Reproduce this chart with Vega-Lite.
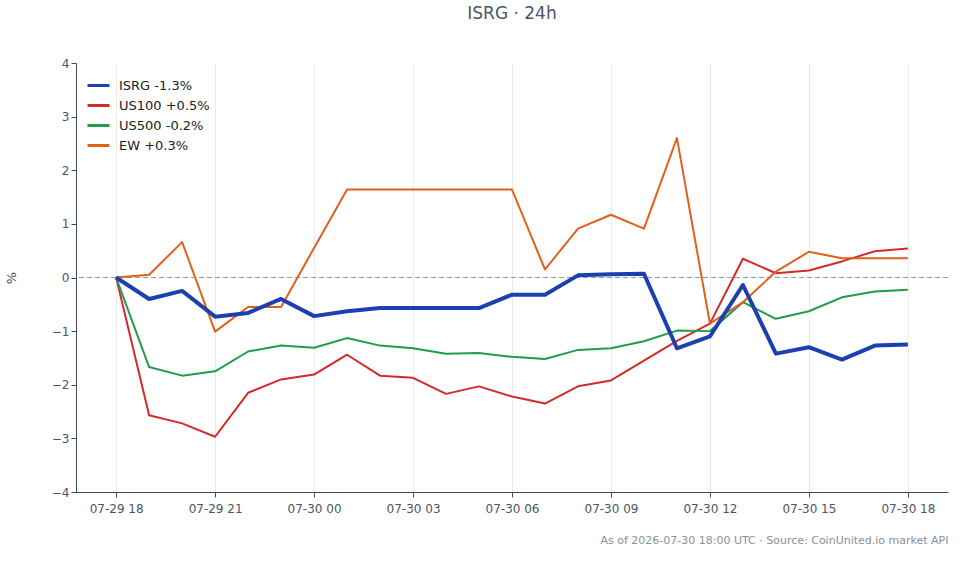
{
  "$schema": "https://vega.github.io/schema/vega-lite/v6.json",
  "width": 872,
  "height": 429,
  "config": {
    "font": "DejaVu Sans",
    "view": {"stroke": ""},
    "axis": {
      "labelFontSize": 12,
      "labelColor": "#4b5563",
      "domainColor": "#3f4a5a",
      "tickColor": "#3f4a5a",
      "gridColor": "#e8eaee",
      "titleFontWeight": "normal",
      "titleColor": "#4b5563"
    }
  },
  "title": {"text": "ISRG · 24h", "fontSize": 17, "fontWeight": "normal", "color": "#4a5568", "offset": 34},
  "data": {
    "values": [
      {"t": "2026-07-29T18:00:00Z", "series": "US100 +0.5%", "pct": 0.00},
      {"t": "2026-07-29T19:00:00Z", "series": "US100 +0.5%", "pct": -2.57},
      {"t": "2026-07-29T20:00:00Z", "series": "US100 +0.5%", "pct": -2.72},
      {"t": "2026-07-29T21:00:00Z", "series": "US100 +0.5%", "pct": -2.97},
      {"t": "2026-07-29T22:00:00Z", "series": "US100 +0.5%", "pct": -2.15},
      {"t": "2026-07-29T23:00:00Z", "series": "US100 +0.5%", "pct": -1.90},
      {"t": "2026-07-30T00:00:00Z", "series": "US100 +0.5%", "pct": -1.81},
      {"t": "2026-07-30T01:00:00Z", "series": "US100 +0.5%", "pct": -1.44},
      {"t": "2026-07-30T02:00:00Z", "series": "US100 +0.5%", "pct": -1.83},
      {"t": "2026-07-30T03:00:00Z", "series": "US100 +0.5%", "pct": -1.87},
      {"t": "2026-07-30T04:00:00Z", "series": "US100 +0.5%", "pct": -2.17},
      {"t": "2026-07-30T05:00:00Z", "series": "US100 +0.5%", "pct": -2.03},
      {"t": "2026-07-30T06:00:00Z", "series": "US100 +0.5%", "pct": -2.22},
      {"t": "2026-07-30T07:00:00Z", "series": "US100 +0.5%", "pct": -2.35},
      {"t": "2026-07-30T08:00:00Z", "series": "US100 +0.5%", "pct": -2.03},
      {"t": "2026-07-30T09:00:00Z", "series": "US100 +0.5%", "pct": -1.92},
      {"t": "2026-07-30T10:00:00Z", "series": "US100 +0.5%", "pct": -1.55},
      {"t": "2026-07-30T11:00:00Z", "series": "US100 +0.5%", "pct": -1.18},
      {"t": "2026-07-30T12:00:00Z", "series": "US100 +0.5%", "pct": -0.86},
      {"t": "2026-07-30T13:00:00Z", "series": "US100 +0.5%", "pct": 0.35},
      {"t": "2026-07-30T14:00:00Z", "series": "US100 +0.5%", "pct": 0.08},
      {"t": "2026-07-30T15:00:00Z", "series": "US100 +0.5%", "pct": 0.13},
      {"t": "2026-07-30T16:00:00Z", "series": "US100 +0.5%", "pct": 0.30},
      {"t": "2026-07-30T17:00:00Z", "series": "US100 +0.5%", "pct": 0.49},
      {"t": "2026-07-30T18:00:00Z", "series": "US100 +0.5%", "pct": 0.54},

      {"t": "2026-07-29T18:00:00Z", "series": "US500 -0.2%", "pct": 0.00},
      {"t": "2026-07-29T19:00:00Z", "series": "US500 -0.2%", "pct": -1.67},
      {"t": "2026-07-29T20:00:00Z", "series": "US500 -0.2%", "pct": -1.83},
      {"t": "2026-07-29T21:00:00Z", "series": "US500 -0.2%", "pct": -1.75},
      {"t": "2026-07-29T22:00:00Z", "series": "US500 -0.2%", "pct": -1.38},
      {"t": "2026-07-29T23:00:00Z", "series": "US500 -0.2%", "pct": -1.27},
      {"t": "2026-07-30T00:00:00Z", "series": "US500 -0.2%", "pct": -1.31},
      {"t": "2026-07-30T01:00:00Z", "series": "US500 -0.2%", "pct": -1.13},
      {"t": "2026-07-30T02:00:00Z", "series": "US500 -0.2%", "pct": -1.27},
      {"t": "2026-07-30T03:00:00Z", "series": "US500 -0.2%", "pct": -1.32},
      {"t": "2026-07-30T04:00:00Z", "series": "US500 -0.2%", "pct": -1.42},
      {"t": "2026-07-30T05:00:00Z", "series": "US500 -0.2%", "pct": -1.41},
      {"t": "2026-07-30T06:00:00Z", "series": "US500 -0.2%", "pct": -1.48},
      {"t": "2026-07-30T07:00:00Z", "series": "US500 -0.2%", "pct": -1.52},
      {"t": "2026-07-30T08:00:00Z", "series": "US500 -0.2%", "pct": -1.35},
      {"t": "2026-07-30T09:00:00Z", "series": "US500 -0.2%", "pct": -1.32},
      {"t": "2026-07-30T10:00:00Z", "series": "US500 -0.2%", "pct": -1.19},
      {"t": "2026-07-30T11:00:00Z", "series": "US500 -0.2%", "pct": -0.99},
      {"t": "2026-07-30T12:00:00Z", "series": "US500 -0.2%", "pct": -1.00},
      {"t": "2026-07-30T13:00:00Z", "series": "US500 -0.2%", "pct": -0.46},
      {"t": "2026-07-30T14:00:00Z", "series": "US500 -0.2%", "pct": -0.77},
      {"t": "2026-07-30T15:00:00Z", "series": "US500 -0.2%", "pct": -0.63},
      {"t": "2026-07-30T16:00:00Z", "series": "US500 -0.2%", "pct": -0.37},
      {"t": "2026-07-30T17:00:00Z", "series": "US500 -0.2%", "pct": -0.26},
      {"t": "2026-07-30T18:00:00Z", "series": "US500 -0.2%", "pct": -0.23},

      {"t": "2026-07-29T18:00:00Z", "series": "EW +0.3%", "pct": 0.00},
      {"t": "2026-07-29T19:00:00Z", "series": "EW +0.3%", "pct": 0.05},
      {"t": "2026-07-29T20:00:00Z", "series": "EW +0.3%", "pct": 0.66},
      {"t": "2026-07-29T21:00:00Z", "series": "EW +0.3%", "pct": -1.01},
      {"t": "2026-07-29T22:00:00Z", "series": "EW +0.3%", "pct": -0.55},
      {"t": "2026-07-29T23:00:00Z", "series": "EW +0.3%", "pct": -0.55},
      {"t": "2026-07-30T00:00:00Z", "series": "EW +0.3%", "pct": 0.55},
      {"t": "2026-07-30T01:00:00Z", "series": "EW +0.3%", "pct": 1.64},
      {"t": "2026-07-30T02:00:00Z", "series": "EW +0.3%", "pct": 1.64},
      {"t": "2026-07-30T03:00:00Z", "series": "EW +0.3%", "pct": 1.64},
      {"t": "2026-07-30T04:00:00Z", "series": "EW +0.3%", "pct": 1.64},
      {"t": "2026-07-30T05:00:00Z", "series": "EW +0.3%", "pct": 1.64},
      {"t": "2026-07-30T06:00:00Z", "series": "EW +0.3%", "pct": 1.64},
      {"t": "2026-07-30T07:00:00Z", "series": "EW +0.3%", "pct": 0.15},
      {"t": "2026-07-30T08:00:00Z", "series": "EW +0.3%", "pct": 0.91},
      {"t": "2026-07-30T09:00:00Z", "series": "EW +0.3%", "pct": 1.17},
      {"t": "2026-07-30T10:00:00Z", "series": "EW +0.3%", "pct": 0.91},
      {"t": "2026-07-30T11:00:00Z", "series": "EW +0.3%", "pct": 2.60},
      {"t": "2026-07-30T12:00:00Z", "series": "EW +0.3%", "pct": -0.86},
      {"t": "2026-07-30T13:00:00Z", "series": "EW +0.3%", "pct": -0.46},
      {"t": "2026-07-30T14:00:00Z", "series": "EW +0.3%", "pct": 0.11},
      {"t": "2026-07-30T15:00:00Z", "series": "EW +0.3%", "pct": 0.48},
      {"t": "2026-07-30T16:00:00Z", "series": "EW +0.3%", "pct": 0.36},
      {"t": "2026-07-30T17:00:00Z", "series": "EW +0.3%", "pct": 0.36},
      {"t": "2026-07-30T18:00:00Z", "series": "EW +0.3%", "pct": 0.36},

      {"t": "2026-07-29T18:00:00Z", "series": "ISRG -1.3%", "pct": 0.00},
      {"t": "2026-07-29T19:00:00Z", "series": "ISRG -1.3%", "pct": -0.40},
      {"t": "2026-07-29T20:00:00Z", "series": "ISRG -1.3%", "pct": -0.25},
      {"t": "2026-07-29T21:00:00Z", "series": "ISRG -1.3%", "pct": -0.73},
      {"t": "2026-07-29T22:00:00Z", "series": "ISRG -1.3%", "pct": -0.66},
      {"t": "2026-07-29T23:00:00Z", "series": "ISRG -1.3%", "pct": -0.40},
      {"t": "2026-07-30T00:00:00Z", "series": "ISRG -1.3%", "pct": -0.72},
      {"t": "2026-07-30T01:00:00Z", "series": "ISRG -1.3%", "pct": -0.63},
      {"t": "2026-07-30T02:00:00Z", "series": "ISRG -1.3%", "pct": -0.57},
      {"t": "2026-07-30T03:00:00Z", "series": "ISRG -1.3%", "pct": -0.57},
      {"t": "2026-07-30T04:00:00Z", "series": "ISRG -1.3%", "pct": -0.57},
      {"t": "2026-07-30T05:00:00Z", "series": "ISRG -1.3%", "pct": -0.57},
      {"t": "2026-07-30T06:00:00Z", "series": "ISRG -1.3%", "pct": -0.32},
      {"t": "2026-07-30T07:00:00Z", "series": "ISRG -1.3%", "pct": -0.32},
      {"t": "2026-07-30T08:00:00Z", "series": "ISRG -1.3%", "pct": 0.04},
      {"t": "2026-07-30T09:00:00Z", "series": "ISRG -1.3%", "pct": 0.06},
      {"t": "2026-07-30T10:00:00Z", "series": "ISRG -1.3%", "pct": 0.07},
      {"t": "2026-07-30T11:00:00Z", "series": "ISRG -1.3%", "pct": -1.32},
      {"t": "2026-07-30T12:00:00Z", "series": "ISRG -1.3%", "pct": -1.10},
      {"t": "2026-07-30T13:00:00Z", "series": "ISRG -1.3%", "pct": -0.14},
      {"t": "2026-07-30T14:00:00Z", "series": "ISRG -1.3%", "pct": -1.42},
      {"t": "2026-07-30T15:00:00Z", "series": "ISRG -1.3%", "pct": -1.30},
      {"t": "2026-07-30T16:00:00Z", "series": "ISRG -1.3%", "pct": -1.53},
      {"t": "2026-07-30T17:00:00Z", "series": "ISRG -1.3%", "pct": -1.27},
      {"t": "2026-07-30T18:00:00Z", "series": "ISRG -1.3%", "pct": -1.25}
    ]
  },
  "layer": [
    {
      "mark": {"type": "rule", "color": "#8e9bb0", "strokeWidth": 1, "strokeDash": [5, 3]},
      "encoding": {"y": {"datum": 0, "type": "quantitative"}}
    },
    {
      "mark": {"type": "line", "strokeJoin": "round"},
      "encoding": {
        "x": {
          "field": "t",
          "type": "temporal",
          "scale": {
            "type": "utc",
            "domain": [
              {"year": 2026, "month": 7, "date": 29, "hours": 16, "minutes": 47, "utc": true},
              {"year": 2026, "month": 7, "date": 30, "hours": 19, "minutes": 13, "utc": true}
            ]
          },
          "axis": {
            "format": "%m-%d %H",
            "tickCount": 10,
            "labelPadding": 6,
            "title": "As of 2026-07-30 18:00 UTC · Source: CoinUnited.io market API",
            "titleFontSize": 11,
            "titleColor": "#8a9099",
            "titleAnchor": "end",
            "titlePadding": 20
          }
        },
        "y": {
          "field": "pct",
          "type": "quantitative",
          "scale": {"domain": [-4, 4], "nice": false},
          "axis": {"tickCount": 8, "title": "%", "titleFontSize": 13, "titlePadding": 33}
        },
        "color": {
          "field": "series",
          "type": "nominal",
          "scale": {
            "domain": ["ISRG -1.3%", "US100 +0.5%", "US500 -0.2%", "EW +0.3%"],
            "range": ["#1e40af", "#d42a2a", "#1f9d4a", "#e0601c"]
          },
          "legend": {
            "title": null,
            "orient": "top-left",
            "offset": 10,
            "symbolType": "stroke",
            "symbolSize": 484,
            "symbolStrokeWidth": 3,
            "rowPadding": 0,
            "labelOffset": 8,
            "labelFontSize": 13,
            "labelColor": "#222222"
          }
        },
        "strokeWidth": {
          "condition": {"test": "datum.series === 'ISRG -1.3%'", "value": 4},
          "value": 2
        }
      }
    }
  ]
}
